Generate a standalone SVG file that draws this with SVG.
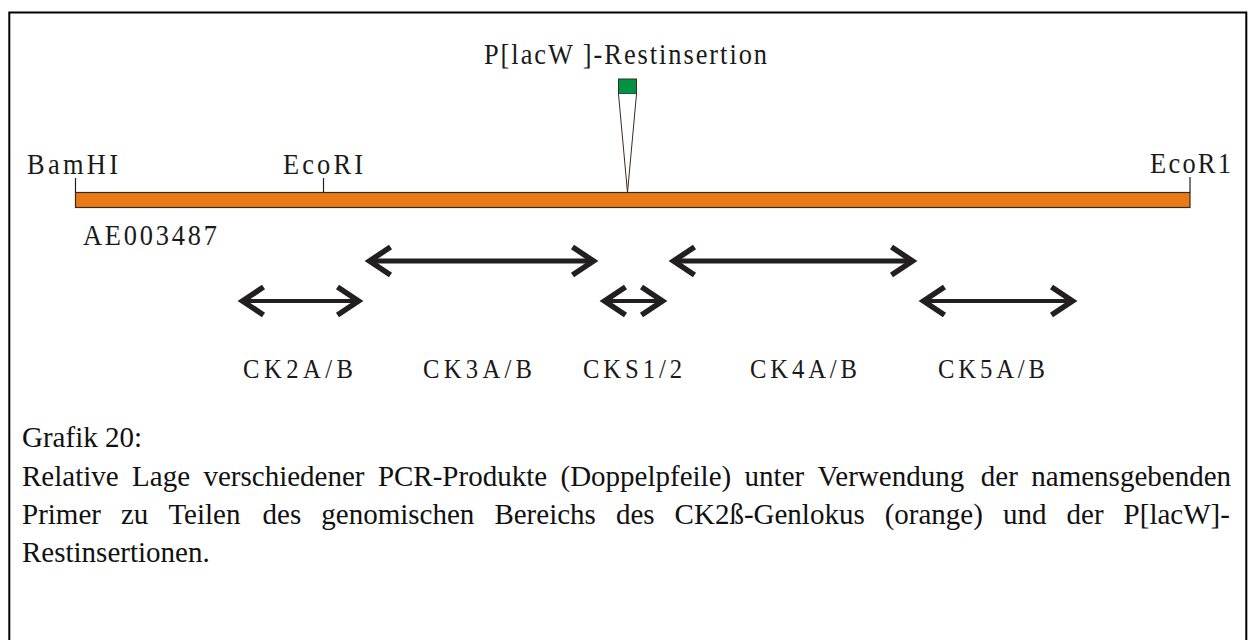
<svg xmlns="http://www.w3.org/2000/svg" width="1249" height="640" viewBox="0 0 1249 640">
  <style>
    .lbl { font-family: "Liberation Serif", "Times New Roman", serif; font-size: 30px; fill: #1a1a1a; }
    .ck { font-family: "Liberation Serif", "Times New Roman", serif; font-size: 28px; fill: #1a1a1a; }
    .cap { font-family: "Liberation Serif", "Times New Roman", serif; font-size: 29px; fill: #111; }
    .tick { stroke: #231f20; stroke-width: 1.2; }
    .shaft { stroke: #231f20; fill: none; }
    .long { stroke-width: 5; }
    .short { stroke-width: 4.2; }
  </style>
  <defs>
    <marker id="chev" markerUnits="userSpaceOnUse" viewBox="-30 -20 36 40" markerWidth="36" markerHeight="40" refX="0" refY="0" orient="auto-start-reverse" overflow="visible">
      <path d="M -21 -14 L 0 0 L -21 14" fill="none" stroke="#231f20" stroke-width="5.5" stroke-linejoin="miter" stroke-linecap="butt"/>
    </marker>
  </defs>

  <rect x="0" y="0" width="1249" height="640" fill="#ffffff"/>
  <!-- frame; lower edge lies below the visible area -->
  <rect x="9.3" y="12.5" width="1237" height="640" fill="none" stroke="#000" stroke-width="2"/>

  <!-- genomic locus; labels are set in a narrowed, letter-spaced serif -->
  <g id="locus">
    <rect x="75.5" y="192.5" width="1114.5" height="15" fill="#e87a17" stroke="#3b2a1c" stroke-width="1.2"/>
    <line class="tick" x1="75.5" y1="178" x2="75.5" y2="192.5"/>
    <line class="tick" x1="323.5" y1="178" x2="323.5" y2="192.5"/>
    <line class="tick" x1="1190" y1="177" x2="1190" y2="192.5"/>
    <text class="lbl" transform="translate(27 174) scale(0.88 1)" textLength="103.4" lengthAdjust="spacing">BamHI</text>
    <text class="lbl" transform="translate(283 174) scale(0.88 1)" textLength="90.9" lengthAdjust="spacing">EcoRI</text>
    <text class="lbl" transform="translate(1150 173) scale(0.88 1)" textLength="92" lengthAdjust="spacing">EcoR1</text>
    <text class="lbl" transform="translate(83 245) scale(0.88 1)" textLength="152.3" lengthAdjust="spacing">AE003487</text>
  </g>

  <!-- P[lacW] remnant insertion -->
  <g id="insertion">
    <text class="lbl" transform="translate(484 64) scale(0.88 1)" textLength="321.6" lengthAdjust="spacing">P[lacW ]-Restinsertion</text>
    <rect x="618.5" y="79" width="18" height="15" fill="#009245" stroke="#3b2a1c" stroke-width="1"/>
    <path d="M 618.5 94 L 627.5 192.5 L 636.5 94" fill="#ffffff" stroke="#3b2a1c" stroke-width="1"/>
  </g>

  <!-- PCR products -->
  <g id="connectors">
    <line class="shaft short" x1="242.5" y1="301" x2="358.5" y2="301" marker-start="url(#chev)" marker-end="url(#chev)"/>
    <line class="shaft long" x1="369.5" y1="261" x2="593.5" y2="261" marker-start="url(#chev)" marker-end="url(#chev)"/>
    <line class="shaft short" x1="604.5" y1="301" x2="662.5" y2="301" marker-start="url(#chev)" marker-end="url(#chev)"/>
    <line class="shaft long" x1="673.5" y1="261" x2="912.5" y2="261" marker-start="url(#chev)" marker-end="url(#chev)"/>
    <line class="shaft short" x1="923.5" y1="301" x2="1072.5" y2="301" marker-start="url(#chev)" marker-end="url(#chev)"/>
  </g>

  <g id="ck2"><text class="ck" transform="translate(243 378) scale(0.88 1)" textLength="125" lengthAdjust="spacing">CK2A/B</text></g>
  <g id="ck3"><text class="ck" transform="translate(423 378) scale(0.88 1)" textLength="123.9" lengthAdjust="spacing">CK3A/B</text></g>
  <g id="cks"><text class="ck" transform="translate(583 378) scale(0.88 1)" textLength="112.5" lengthAdjust="spacing">CKS1/2</text></g>
  <g id="ck4"><text class="ck" transform="translate(750 378) scale(0.88 1)" textLength="121.6" lengthAdjust="spacing">CK4A/B</text></g>
  <g id="ck5"><text class="ck" transform="translate(938 378) scale(0.88 1)" textLength="121.6" lengthAdjust="spacing">CK5A/B</text></g>

  <!-- caption, justified lines set word by word -->
  <g id="caption" class="cap">
    <text x="22" y="447">Grafik 20:</text>
    <text y="486">
      <tspan x="22">Relative</tspan>
      <tspan x="132.1">Lage</tspan>
      <tspan x="203.5">verschiedener</tspan>
      <tspan x="377.9">PCR-Produkte</tspan>
      <tspan x="560.5">(Doppelpfeile)</tspan>
      <tspan x="744.6">unter</tspan>
      <tspan x="817.6">Verwendung</tspan>
      <tspan x="980.8">der</tspan>
      <tspan x="1031.3">namensgebenden</tspan>
    </text>
    <text y="524">
      <tspan x="22">Primer</tspan>
      <tspan x="121">zu</tspan>
      <tspan x="168.4">Teilen</tspan>
      <tspan x="262.6">des</tspan>
      <tspan x="321.3">genomischen</tspan>
      <tspan x="494.4">Bereichs</tspan>
      <tspan x="615.9">des</tspan>
      <tspan x="674.6">CK2ß-Genlokus</tspan>
      <tspan x="884.7">(orange)</tspan>
      <tspan x="1003">und</tspan>
      <tspan x="1066.6">der</tspan>
      <tspan x="1123.6">P[lacW]-</tspan>
    </text>
    <text x="22" y="562">Restinsertionen.</text>
  </g>
</svg>
